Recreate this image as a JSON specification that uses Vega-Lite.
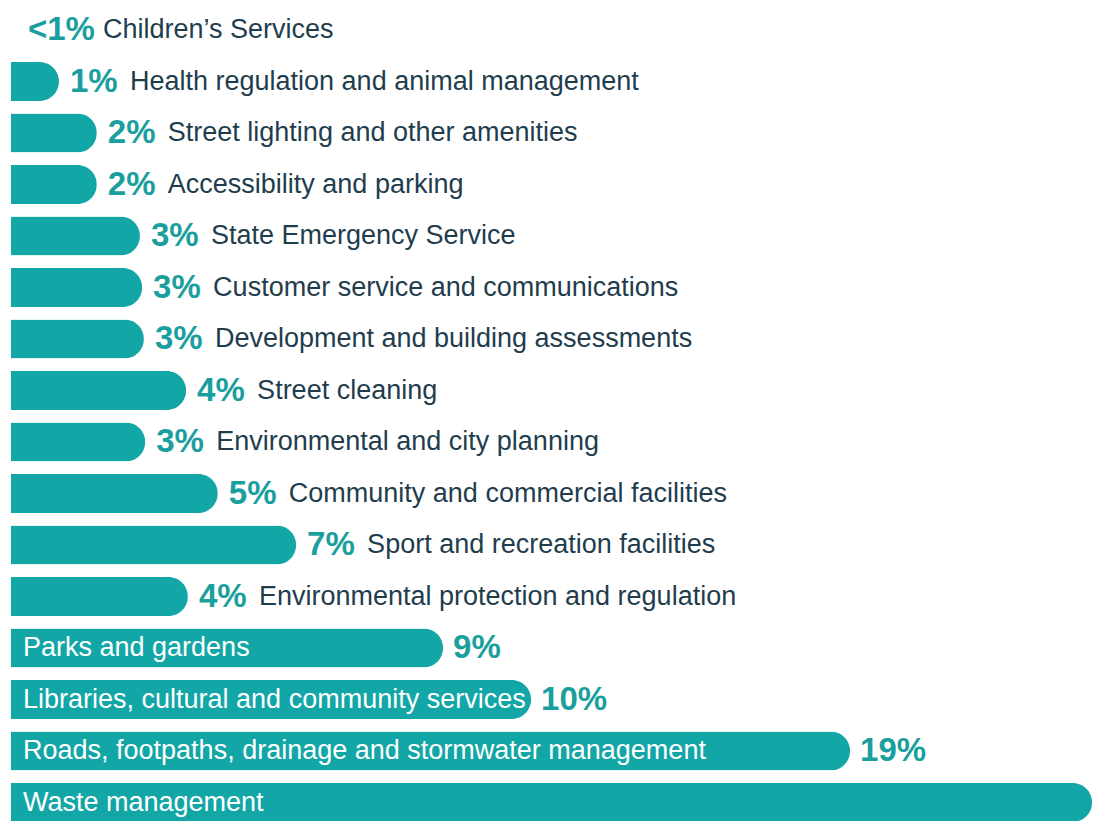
{
  "$schema": "https://vega.github.io/schema/vega-lite/v6.json",
  "width": 1096,
  "height": 821,
  "autosize": {"type": "none"},
  "padding": 0,
  "background": "white",
  "config": {"view": {"stroke": null}},
  "data": {
    "values": [
      {"name": "Children’s Services", "label": "<1%", "value": 0},
      {"name": "Health regulation and animal management", "label": "1%", "value": 1.09},
      {"name": "Street lighting and other amenities", "label": "2%", "value": 1.95},
      {"name": "Accessibility and parking", "label": "2%", "value": 1.95},
      {"name": "State Emergency Service", "label": "3%", "value": 2.93},
      {"name": "Customer service and communications", "label": "3%", "value": 2.98},
      {"name": "Development and building assessments", "label": "3%", "value": 3.02},
      {"name": "Street cleaning", "label": "4%", "value": 3.98},
      {"name": "Environmental and city planning", "label": "3%", "value": 3.05},
      {"name": "Community and commercial facilities", "label": "5%", "value": 4.7},
      {"name": "Sport and recreation facilities", "label": "7%", "value": 6.48},
      {"name": "Environmental protection and regulation", "label": "4%", "value": 4.02},
      {"name": "Parks and gardens", "label": "9%", "value": 9.82},
      {"name": "Libraries, cultural and community services", "label": "10%", "value": 11.82},
      {"name": "Roads, footpaths, drainage and stormwater management", "label": "19%", "value": 19.07},
      {"name": "Waste management", "label": "25%", "value": 24.57}
    ]
  },
  "encoding": {
    "y": {
      "field": "name", "type": "nominal", "axis": null,
      "scale": {
        "domain": [
          "Children’s Services",
          "Health regulation and animal management",
          "Street lighting and other amenities",
          "Accessibility and parking",
          "State Emergency Service",
          "Customer service and communications",
          "Development and building assessments",
          "Street cleaning",
          "Environmental and city planning",
          "Community and commercial facilities",
          "Sport and recreation facilities",
          "Environmental protection and regulation",
          "Parks and gardens",
          "Libraries, cultural and community services",
          "Roads, footpaths, drainage and stormwater management",
          "Waste management"
        ],
        "range": [4.25, 828.25], "paddingInner": 0, "paddingOuter": 0
      }
    }
  },
  "layer": [
    {
      "transform": [{"filter": "datum.value > 0"}],
      "mark": {"type": "bar", "height": 39, "color": "#13a6a7", "cornerRadiusTopRight": 19.5, "cornerRadiusBottomRight": 19.5},
      "encoding": {
        "x": {"field": "value", "type": "quantitative", "axis": null,
              "scale": {"domain": [0, 25], "range": [11, 1111], "nice": false, "zero": true}}
      }
    },
    {
      "transform": [{"filter": "datum.value > 0 && datum.value < 9"}],
      "mark": {"type": "text", "align": "left", "baseline": "middle", "dx": 11, "font": "Liberation Sans", "fontWeight": "bold", "fontSize": 33, "color": "#1a9f9e"},
      "encoding": {"x": {"field": "value", "type": "quantitative"}, "text": {"field": "label"}}
    },
    {
      "transform": [{"filter": "datum.value > 0 && datum.value < 9"}],
      "mark": {"type": "text", "align": "left", "baseline": "middle", "dx": 71, "font": "Liberation Sans", "fontSize": 27, "color": "#1f3d4d"},
      "encoding": {"x": {"field": "value", "type": "quantitative"}, "text": {"field": "name"}}
    },
    {
      "transform": [{"filter": "datum.value == 0"}],
      "mark": {"type": "text", "align": "left", "baseline": "middle", "dx": 17, "font": "Liberation Sans", "fontWeight": "bold", "fontSize": 33, "color": "#1a9f9e"},
      "encoding": {"x": {"field": "value", "type": "quantitative"}, "text": {"field": "label"}}
    },
    {
      "transform": [{"filter": "datum.value == 0"}],
      "mark": {"type": "text", "align": "left", "baseline": "middle", "dx": 92, "font": "Liberation Sans", "fontSize": 27, "color": "#1f3d4d"},
      "encoding": {"x": {"field": "value", "type": "quantitative"}, "text": {"field": "name"}}
    },
    {
      "transform": [{"filter": "datum.value >= 9"}],
      "mark": {"type": "text", "align": "left", "baseline": "middle", "dx": 12, "font": "Liberation Sans", "fontSize": 27, "color": "white"},
      "encoding": {"x": {"datum": 0, "type": "quantitative"}, "text": {"field": "name"}}
    },
    {
      "transform": [{"filter": "datum.value >= 9 && datum.value < 20"}],
      "mark": {"type": "text", "align": "left", "baseline": "middle", "dx": 10, "font": "Liberation Sans", "fontWeight": "bold", "fontSize": 33, "color": "#1a9f9e"},
      "encoding": {"x": {"field": "value", "type": "quantitative"}, "text": {"field": "label"}}
    }
  ]
}
